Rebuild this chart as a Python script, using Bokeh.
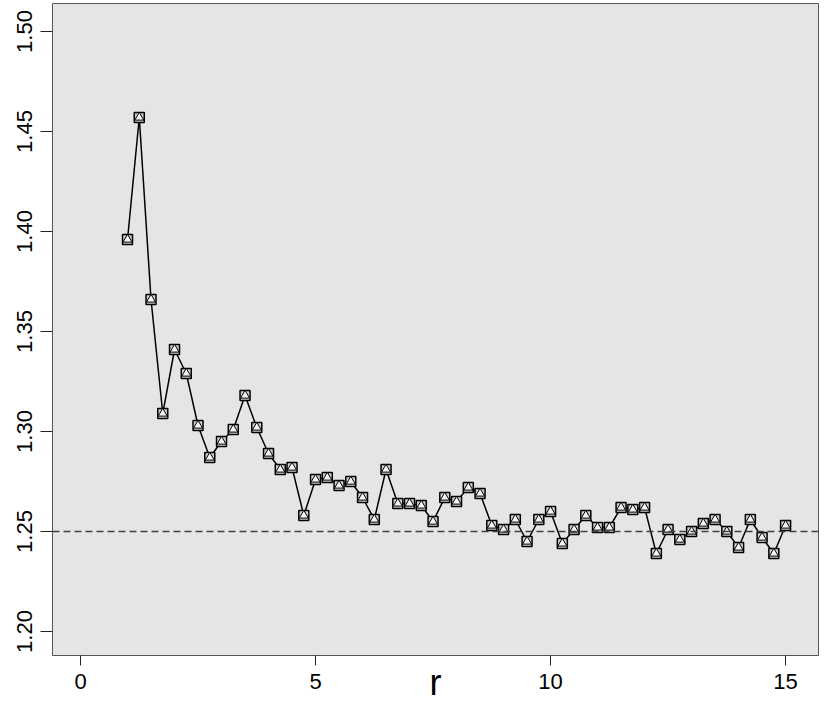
from bokeh.plotting import figure
from bokeh.models import Range1d, FixedTicker, NumeralTickFormatter, Span
from bokeh.embed import file_html
from bokeh.resources import INLINE

r = [1.0, 1.25, 1.5, 1.75, 2.0, 2.25, 2.5, 2.75, 3.0, 3.25, 3.5, 3.75,
     4.0, 4.25, 4.5, 4.75, 5.0, 5.25, 5.5, 5.75, 6.0, 6.25, 6.5, 6.75,
     7.0, 7.25, 7.5, 7.75, 8.0, 8.25, 8.5, 8.75, 9.0, 9.25, 9.5, 9.75,
     10.0, 10.25, 10.5, 10.75, 11.0, 11.25, 11.5, 11.75, 12.0, 12.25, 12.5, 12.75,
     13.0, 13.25, 13.5, 13.75, 14.0, 14.25, 14.5, 14.75, 15.0]
vals = [1.396, 1.457, 1.366, 1.309, 1.341, 1.329, 1.303, 1.287, 1.295, 1.301, 1.318, 1.302,
        1.289, 1.281, 1.282, 1.258, 1.276, 1.277, 1.273, 1.275, 1.267, 1.256, 1.281, 1.264,
        1.264, 1.263, 1.255, 1.267, 1.265, 1.272, 1.269, 1.253, 1.251, 1.256, 1.245, 1.256,
        1.260, 1.244, 1.251, 1.258, 1.252, 1.252, 1.262, 1.261, 1.262, 1.239, 1.251, 1.246,
        1.250, 1.254, 1.256, 1.250, 1.242, 1.256, 1.247, 1.239, 1.253]
ref_value = 1.25
x_ticks = [0, 5, 10, 15]
y_ticks = [1.20, 1.25, 1.30, 1.35, 1.40, 1.45, 1.50]
x_title = "r"

FONT = "'Liberation Sans Narrow', 'Liberation Sans', sans-serif"

p = figure(width=830, height=706, output_backend="svg", toolbar_location=None,
           x_range=Range1d(-0.596, 15.70), y_range=Range1d(1.188, 1.514),
           min_border_left=52, min_border_right=12, min_border_top=3, min_border_bottom=51)
p.background_fill_color = "#E5E5E5"
p.border_fill_color = "white"
p.outline_line_color = "#555555"
p.outline_line_width = 1
p.grid.visible = False

for ax in (p.xaxis[0], p.yaxis[0]):
    ax.axis_line_color = None
    ax.major_tick_in = 0
    ax.minor_tick_out = 0
    ax.minor_tick_in = 0
    ax.major_tick_line_color = "#222222"
    ax.major_label_text_font = FONT
    ax.major_label_text_font_size = "22px"
    ax.major_label_text_color = "black"

p.xaxis.major_tick_out = 10
p.yaxis.major_tick_out = 12
p.xaxis.ticker = FixedTicker(ticks=x_ticks)
p.yaxis.ticker = FixedTicker(ticks=y_ticks)
p.yaxis.formatter = NumeralTickFormatter(format="0.00")
p.yaxis.major_label_orientation = "vertical"
p.xaxis.major_label_standoff = 8
p.yaxis.major_label_standoff = 9
p.xaxis.axis_label = x_title
p.xaxis.axis_label_text_font = FONT
p.xaxis.axis_label_text_font_size = "36px"
p.xaxis.axis_label_text_font_style = "normal"
p.xaxis.axis_label_text_color = "black"
p.xaxis.axis_label_text_line_height = 0.6
p.xaxis.axis_label_standoff = -30

p.add_layout(Span(location=ref_value, dimension="width", line_color="#404040",
                  line_width=1.5, line_dash="7 4"))

p.line(r, vals, line_color="black", line_width=1.5)
p.scatter(r, vals, marker="square", size=10, fill_color="#cfcfcf",
          line_color="black", line_width=1.5)
p.scatter(r, vals, marker="triangle", size=9, fill_color="#f4f4f4",
          line_color="black", line_width=1)

open("out.html", "w").write(file_html(p, INLINE))
